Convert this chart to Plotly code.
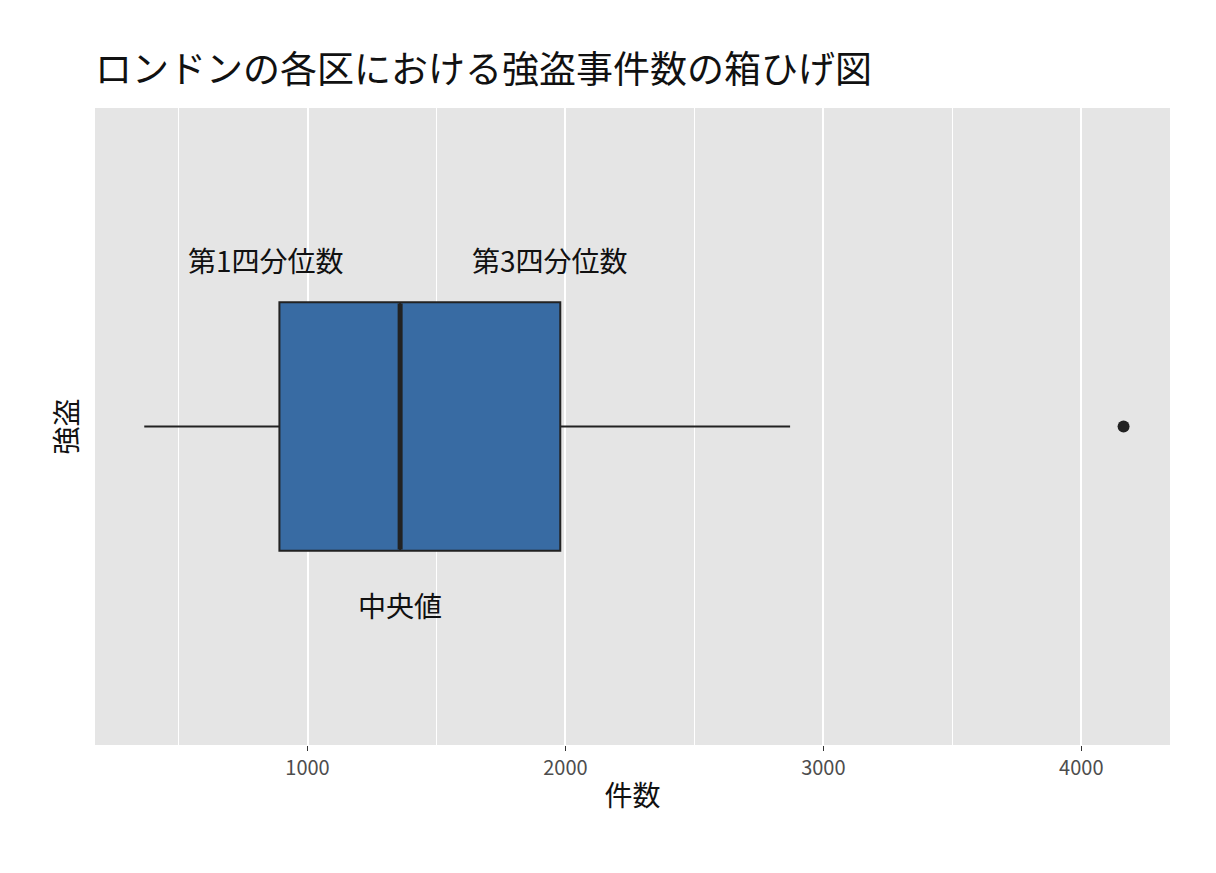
import plotly.graph_objects as go

category = "強盗"
q1 = [891]
median = [1359]
q3 = [1980]
lower = [367]
upper = [2871]
outliers = [4164]
tick_vals = [1000, 2000, 3000, 4000]
labels = ["第1四分位数", "第3四分位数", "中央値"]
label_x = [840, 1942, 1359]
label_y = [0.262, 0.262, -0.28]

font = "Noto Sans CJK JP"
fig = go.Figure()
fig.add_trace(go.Box(y=[0], q1=q1, median=median, q3=q3, lowerfence=lower, upperfence=upper,
                     orientation="h", width=0.39, fillcolor="#386ba3", whiskerwidth=0,
                     line=dict(color="#222222", width=2), boxpoints=False,
                     hoverinfo="skip", showlegend=False))
fig.add_trace(go.Scatter(x=[median[0], median[0]], y=[-0.193, 0.193], mode="lines",
                         line=dict(color="#222222", width=5), showlegend=False))
fig.add_trace(go.Scatter(x=outliers, y=[0] * len(outliers), mode="markers",
                         marker=dict(color="#222222", size=12), showlegend=False))
for t, x, y in zip(labels, label_x, label_y):
    fig.add_annotation(x=x, y=y, text=t, showarrow=False, font=dict(size=28, color="#111"))

fig.update_layout(
    width=1216, height=873, paper_bgcolor="white", plot_bgcolor="#e5e5e5",
    font=dict(family=font, color="#111"),
    margin=dict(l=87, r=54, t=100, b=136),
    title=dict(text="ロンドンの各区における強盗事件数の箱ひげ図", x=87/1216, xanchor="left",
               y=1-62/873, yanchor="middle", font=dict(size=37, color="#111")),
    xaxis=dict(range=[176, 4344], tickvals=tick_vals, gridcolor="white", gridwidth=2,
               minor=dict(tickvals=[500, 1500, 2500, 3500], gridcolor="white", gridwidth=1, showgrid=True),
               zeroline=False, ticks="outside", ticklen=5, tickcolor="#333",
               tickfont=dict(size=20, color="#4d4d4d"),
               title=dict(text="件数", font=dict(size=28), standoff=6)),
    yaxis=dict(range=[-0.5, 0.5], showticklabels=False, showgrid=False, zeroline=False,
               title=dict(text="強盗", font=dict(size=28), standoff=8)),
)
fig.write_html("out.html")
